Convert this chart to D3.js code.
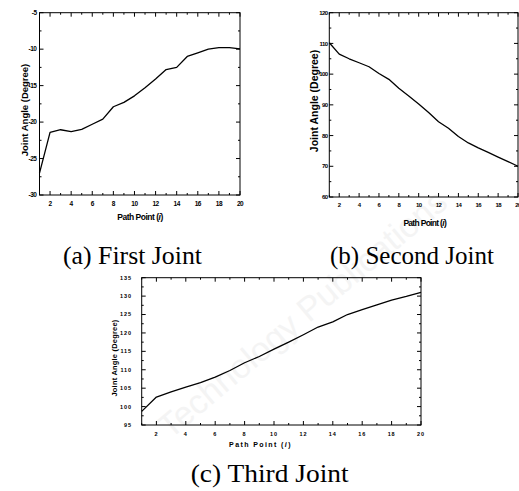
<!DOCTYPE html>
<html>
<head>
<meta charset="utf-8">
<script src="https://cdn.jsdelivr.net/npm/d3@7"></script>
<style>
  html, body { margin: 0; padding: 0; background: #fff; }
  svg { display: block; }
  .tick-label { font-family: Arial, "Liberation Sans", sans-serif; font-weight: bold; fill: #000; }
  .caption { font-family: "Times New Roman", "Liberation Serif", serif; fill: #000; }
</style>
</head>
<body>
<svg id="fig" width="519" height="491"></svg>
<script>
// Data
const pathPoints = d3.range(1, 21)
const firstJoint = [-27, -21.4, -21.05, -21.3, -21.0, -20.3, -19.6, -17.9, -17.3, -16.4,
    -15.3, -14.1, -12.8, -12.5, -11.0, -10.5, -10.0, -9.8, -9.8, -9.95]
const secondJoint = [110.2, 106.5, 105.0, 103.7, 102.4, 100.2, 98.3, 95.4, 92.9, 90.3,
    87.5, 84.5, 82.4, 79.7, 77.6, 76.0, 74.5, 73.0, 71.5, 70.0]
const thirdJoint = [98.7, 102.6, 104.0, 105.3, 106.5, 108.0, 109.8, 111.9, 113.6, 115.6,
    117.5, 119.5, 121.6, 123.0, 125.0, 126.3, 127.6, 128.9, 129.9, 131.0]
const xTickLabels = [2, 4, 6, 8, 10, 12, 14, 16, 18, 20]
const firstTicks = [-30, -25, -20, -15, -10, -5]
const secondTicks = [60, 70, 80, 90, 100, 110, 120]
const thirdTicks = [95, 100, 105, 110, 115, 120, 125, 130, 135]
const captions = ['(a) First Joint', '(b) Second Joint', '(c) Third Joint']

const svg = d3.select('#fig')

// very faint watermark behind everything
svg.append('text')
    .attr('transform', 'translate(170, 440) rotate(-40)')
    .attr('font-family', 'Arial, sans-serif')
    .attr('font-size', 34)
    .attr('fill', '#f4f4f4')
    .text('Technology Publications')

const panels = [
    {
        values: firstJoint, yTicks: firstTicks, yMinorStep: 2.5,
        box: { left: 39.5, right: 240, top: 12.7, bottom: 195 },
        tickSize: 6.5, tickSpacing: -0.5, tickLabelX: 36.5, xLabelY: 205.5,
        xTitle: { x: 140, y: 219.5, size: 8.5, spacing: -0.5 },
        yTitle: { x: 27.5, y: 110, size: 9.5, spacing: 0 },
        caption: { x: 63, y: 264, len: 139 }
    },
    {
        values: secondJoint, yTicks: secondTicks, yMinorStep: 5,
        box: { left: 329.3, right: 518, top: 12.7, bottom: 197 },
        tickSize: 6, tickSpacing: -0.6, tickLabelX: 327.5, xLabelY: 206.5,
        xTitle: { x: 424.7, y: 225.5, size: 8.5, spacing: -0.7 },
        yTitle: { x: 317.5, y: 101, size: 10.5, spacing: 0 },
        caption: { x: 330, y: 264, len: null }
    },
    {
        values: thirdJoint, yTicks: thirdTicks, yMinorStep: 2.5,
        box: { left: 141.7, right: 421, top: 277.7, bottom: 425 },
        tickSize: 5.5, tickSpacing: 0.9, tickLabelX: 132, xLabelY: 436,
        xTitle: { x: 260.5, y: 447, size: 7, spacing: 1.4 },
        yTitle: { x: 117, y: 358, size: 7.5, spacing: 0.2 },
        caption: { x: 190.7, y: 481.7, len: 158 }
    }
]

panels.forEach((p, idx) => {
    const { box } = p
    const x = d3.scaleLinear().domain([1, 20]).range([box.left, box.right])
    const yExtent = d3.extent(p.yTicks)
    const y = d3.scaleLinear().domain(yExtent).range([box.bottom, box.top])
    const g = svg.append('g')

    // frame
    g.append('rect')
        .attr('x', box.left).attr('y', box.top)
        .attr('width', box.right - box.left).attr('height', box.bottom - box.top)
        .attr('fill', 'none').attr('stroke', '#000').attr('stroke-width', 1)

    // inward ticks on all four sides
    const tickLen = v => (v % 2 === 0 ? 4 : 2)
    pathPoints.forEach(v => {
        const len = tickLen(v)
        g.append('line').attr('x1', x(v)).attr('x2', x(v))
            .attr('y1', box.bottom).attr('y2', box.bottom - len)
            .attr('stroke', '#000').attr('stroke-width', 1)
        g.append('line').attr('x1', x(v)).attr('x2', x(v))
            .attr('y1', box.top).attr('y2', box.top + len)
            .attr('stroke', '#000').attr('stroke-width', 1)
    })
    const yMinor = d3.range(yExtent[0], yExtent[1] + 0.001, p.yMinorStep)
    yMinor.forEach(v => {
        const major = p.yTicks.includes(v)
        const len = major ? 4 : 2
        g.append('line').attr('x1', box.left).attr('x2', box.left + len)
            .attr('y1', y(v)).attr('y2', y(v))
            .attr('stroke', '#000').attr('stroke-width', 1)
        g.append('line').attr('x1', box.right).attr('x2', box.right - len)
            .attr('y1', y(v)).attr('y2', y(v))
            .attr('stroke', '#000').attr('stroke-width', 1)
    })

    // tick labels
    g.selectAll('text.xl').data(xTickLabels).enter().append('text')
        .attr('class', 'tick-label xl')
        .attr('x', d => x(d)).attr('y', p.xLabelY)
        .attr('text-anchor', 'middle')
        .attr('font-size', p.tickSize).attr('letter-spacing', p.tickSpacing)
        .text(d => d)
    g.selectAll('text.yl').data(p.yTicks).enter().append('text')
        .attr('class', 'tick-label yl')
        .attr('x', p.tickLabelX).attr('y', d => y(d))
        .attr('dy', '0.35em')
        .attr('text-anchor', 'end')
        .attr('font-size', p.tickSize).attr('letter-spacing', p.tickSpacing)
        .text(d => d)

    // axis titles
    const xt = g.append('text').attr('class', 'tick-label')
        .attr('x', p.xTitle.x).attr('y', p.xTitle.y)
        .attr('text-anchor', 'middle')
        .attr('font-size', p.xTitle.size).attr('letter-spacing', p.xTitle.spacing)
    xt.append('tspan').text('Path Point (')
    xt.append('tspan').attr('font-style', 'italic').text('i')
    xt.append('tspan').text(')')

    g.append('text').attr('class', 'tick-label')
        .attr('transform', `translate(${p.yTitle.x}, ${p.yTitle.y}) rotate(-90)`)
        .attr('text-anchor', 'middle')
        .attr('font-size', p.yTitle.size).attr('letter-spacing', p.yTitle.spacing)
        .text('Joint Angle (Degree)')

    // line
    const line = d3.line().x((d, i) => x(pathPoints[i])).y(d => y(d))
    g.append('path').datum(p.values)
        .attr('d', line)
        .attr('fill', 'none').attr('stroke', '#000').attr('stroke-width', 1.3)
        .attr('stroke-linejoin', 'round')

    // caption
    const cap = svg.append('text').attr('class', 'caption')
        .attr('x', p.caption.x).attr('y', p.caption.y)
        .attr('font-size', 25)
        .text(captions[idx])
    if (p.caption.len) cap.attr('textLength', p.caption.len).attr('lengthAdjust', 'spacingAndGlyphs')
})
</script>
</body>
</html>
